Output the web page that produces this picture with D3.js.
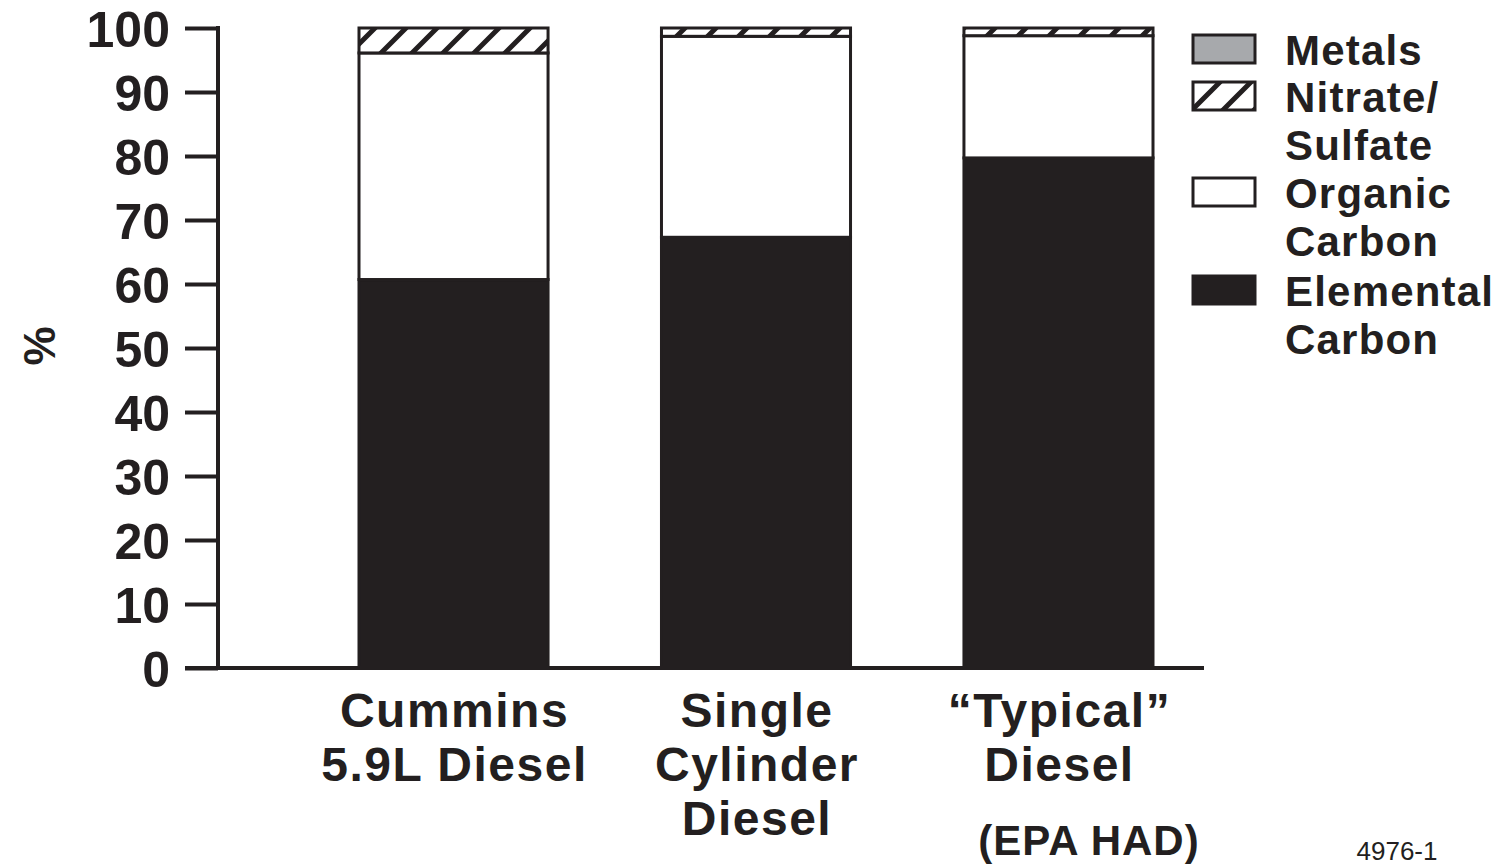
<!DOCTYPE html>
<html><head><meta charset="utf-8">
<script src="https://cdn.jsdelivr.net/npm/d3@7"></script>
<style>body{margin:0;background:#fff}svg{display:block}text{font-family:"Liberation Sans",Arial,sans-serif;font-weight:bold;fill:#231f20}</style>
</head><body>
<script>
const categories = ["Cummins 5.9L Diesel", "Single Cylinder Diesel", "\u201CTypical\u201D Diesel"];
const categoryLines = [["Cummins", "5.9L Diesel"], ["Single", "Cylinder", "Diesel"], ["\u201CTypical\u201D", "Diesel"]];
const elementalCarbon = [60.7, 67.3, 79.7];
const organicCarbon = [35.4, 31.4, 19.1];
const nitrateSulfate = [3.9, 1.3, 1.2];
const metals = [0, 0, 0];
const yTicks = [0, 10, 20, 30, 40, 50, 60, 70, 80, 90, 100];
const seriesNames = ["Metals", "Nitrate/ Sulfate", "Organic Carbon", "Elemental Carbon"];
const legendLines = [["Metals"], ["Nitrate/", "Sulfate"], ["Organic", "Carbon"], ["Elemental", "Carbon"]];

const W = 1499, H = 867, ink = "#231f20";
const svg = d3.select("body").append("svg").attr("width", W).attr("height", H);
const defs = svg.append("defs");
const pat = defs.append("pattern").attr("id", "hatch").attr("patternUnits", "userSpaceOnUse")
  .attr("width", 31).attr("height", 31);
pat.append("rect").attr("width", 31).attr("height", 31).attr("fill", "#fff");
pat.append("path").attr("d", "M-4,35 L35,-4 M-20,20 L20,-20 M11,51 L51,11")
  .attr("stroke", ink).attr("stroke-width", 5);

const y = d3.scaleLinear().domain([0, 100]).range([668, 28]);
const x = d3.scaleBand().domain(categories).range([359, 1153]).paddingInner(0.375).paddingOuter(0);

const table = categories.map((c, i) => ({cat: c, "Elemental Carbon": elementalCarbon[i], "Organic Carbon": organicCarbon[i], "Nitrate/ Sulfate": nitrateSulfate[i], "Metals": metals[i]}));
const order = ["Elemental Carbon", "Organic Carbon", "Nitrate/ Sulfate", "Metals"];
const stack = d3.stack().keys(order)(table);
const fills = {"Elemental Carbon": ink, "Organic Carbon": "#fff", "Nitrate/ Sulfate": "url(#hatch)", "Metals": "#a7a9ac"};

stack.forEach(layer => {
  svg.append("g").selectAll("rect").data(layer.filter(d => d[1] - d[0] > 0)).join("rect")
    .attr("x", d => x(d.data.cat)).attr("width", x.bandwidth())
    .attr("y", d => y(d[1])).attr("height", d => y(d[0]) - y(d[1]))
    .attr("fill", fills[layer.key]).attr("stroke", ink).attr("stroke-width", 3);
});

// axes
const yAxis = d3.axisLeft(y).tickValues(yTicks).tickSize(33).tickPadding(15).tickFormat(d3.format("d"));
const gy = svg.append("g").attr("transform", "translate(218,0)").call(yAxis);
gy.select(".domain").remove();
gy.selectAll(".tick line").attr("stroke", ink).attr("stroke-width", 4);
gy.selectAll(".tick text").attr("font-size", 50).attr("fill", ink).attr("dy", "0.36em")
  .style("font-family", '"Liberation Sans",Arial,sans-serif').style("font-weight", "bold");
svg.append("line").attr("x1", 218).attr("x2", 218).attr("y1", y(100) - 2).attr("y2", y(0)).attr("stroke", ink).attr("stroke-width", 4);
svg.append("line").attr("x1", 185).attr("x2", 1204).attr("y1", y(0)).attr("y2", y(0)).attr("stroke", ink).attr("stroke-width", 4);

// x labels
categories.forEach((c, i) => {
  const cx = x(c) + x.bandwidth() / 2 + 1;
  const t = svg.append("text").attr("text-anchor", "middle").attr("font-size", 48).style("letter-spacing", "1.5px");
  categoryLines[i].forEach((l, j) => t.append("tspan").attr("x", cx).attr("y", 727 + j * 54).text(l));
});
svg.append("text").attr("x", 1089).attr("y", 855).attr("text-anchor", "middle").attr("font-size", 42)
  .style("letter-spacing", "1px").text("(EPA HAD)");
svg.append("text").attr("x", 1397).attr("y", 860).attr("text-anchor", "middle").attr("font-size", 26)
  .style("font-weight", "normal").text("4976-1");

// y title
svg.append("text").attr("transform", "translate(55,346) rotate(-90)").attr("text-anchor", "middle")
  .attr("font-size", 44).text("%");

// legend
const legFills = ["#a7a9ac", "url(#hatch)", "#fff", ink];
const textY = [65, 112, 208, 306];
seriesNames.forEach((s, i) => {
  svg.append("rect").attr("x", 1193).attr("y", textY[i] - 30).attr("width", 62).attr("height", 28)
    .attr("fill", legFills[i]).attr("stroke", ink).attr("stroke-width", 3);
  const t = svg.append("text").attr("font-size", 42).style("letter-spacing", "1.2px");
  legendLines[i].forEach((l, j) => t.append("tspan").attr("x", 1285).attr("y", textY[i] + j * 48).text(l));
});
</script>
</body></html>
